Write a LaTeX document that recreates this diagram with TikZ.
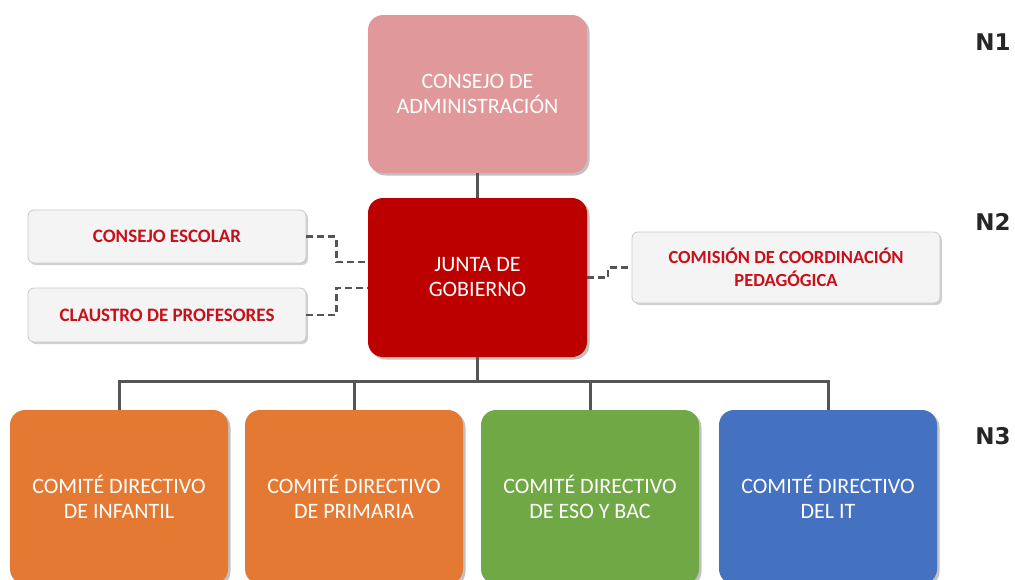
\documentclass[tikz,border=0pt]{standalone}
\usepackage{fontspec}
\setmainfont{Carlito}
\newfontfamily\nfont{DejaVu Sans}
\usetikzlibrary{shadows}
\definecolor{pinkbox}{HTML}{E0989A}
\definecolor{redbox}{HTML}{BC0000}
\definecolor{orangebox}{HTML}{E37933}
\definecolor{greenbox}{HTML}{6FA845}
\definecolor{bluebox}{HTML}{4571C1}
\definecolor{sidebox}{HTML}{F4F4F4}
\definecolor{sidetext}{HTML}{C8101A}
\definecolor{linegray}{HTML}{555555}
\tikzset{
  bigbox/.style={rounded corners=15pt, minimum width=219pt, inner sep=0pt,
    text=white, align=center, font=\fontsize{22}{25}\selectfont,
    drop shadow={shadow xshift=2.5pt, shadow yshift=-2.5pt, opacity=0.35, fill=black!70}},
  sidebox/.style={rounded corners=6pt, fill=sidebox, draw=black!22, line width=0.8pt,
    minimum width=278pt, inner sep=0pt, text=sidetext, align=center,
    font=\bfseries\fontsize{19}{23}\selectfont,
    drop shadow={shadow xshift=2pt, shadow yshift=-2pt, opacity=0.3, fill=black!60}},
  solidline/.style={draw=linegray, line width=3pt},
  dashline/.style={draw=linegray, line width=2.5pt, dash pattern=on 7pt off 4pt},
  levellabel/.style={font=\nfont\bfseries\fontsize{23}{26}\selectfont, text=black!85, inner sep=0pt}
}
\begin{document}
\begin{tikzpicture}[x=1pt, y=-1pt]
\useasboundingbox (0,0) rectangle (1015,579);
% top level
\node[bigbox, fill=pinkbox, minimum height=158pt] (adm) at (477.5,94) {CONSEJO DE\\ADMINISTRACIÓN};
\node[bigbox, fill=redbox, minimum height=159pt] (junta) at (477.5,277.5) {JUNTA DE\\GOBIERNO};
% side boxes
\node[sidebox, minimum height=53pt] (escolar) at (167,236.5) {CONSEJO ESCOLAR};
\node[sidebox, minimum height=54pt] (claustro) at (167,315) {CLAUSTRO DE PROFESORES};
\node[sidebox, minimum width=308pt, minimum height=71pt, font=\bfseries\fontsize{18.5}{23}\selectfont] (comision) at (786,267.5) {COMISIÓN DE COORDINACIÓN\\PEDAGÓGICA};
% bottom boxes
\node[bigbox, fill=orangebox, minimum width=218pt, minimum height=174pt] (infantil) at (119,497) {COMITÉ DIRECTIVO\\DE INFANTIL};
\node[bigbox, fill=orangebox, minimum width=218pt, minimum height=174pt] (primaria) at (354,497) {COMITÉ DIRECTIVO\\DE PRIMARIA};
\node[bigbox, fill=greenbox, minimum width=218pt, minimum height=174pt] (eso) at (590,497) {COMITÉ DIRECTIVO\\DE ESO Y BAC};
\node[bigbox, fill=bluebox, minimum width=218pt, minimum height=174pt] (it) at (828,497) {COMITÉ DIRECTIVO\\DEL IT};
% level labels
\node[levellabel] (n1) at (993,42) {N1};
\node[levellabel] (n2) at (993,222) {N2};
\node[levellabel] (n3) at (993,436) {N3};
% connectors
\coordinate (bus) at (0,381);
\draw[solidline] (adm.south) -- (junta.north);
\draw[solidline] (junta.south) -- (junta.south |- bus);
\draw[solidline] (infantil.north) -- (infantil.north |- bus) -- (it.north |- bus) -- (it.north);
\draw[solidline] (primaria.north) -- (primaria.north |- bus);
\draw[solidline] (eso.north) -- (eso.north |- bus);
\draw[dashline] (escolar.east) -- ++(30,0) |- ([yshift=15.5pt]junta.west);
\draw[dashline] (claustro.east) -- ++(30,0) |- ([yshift=-10.5pt]junta.west);
\draw[dashline] (junta.east) -- ++(21,0) |- (comision.west);
\end{tikzpicture}
\end{document}
